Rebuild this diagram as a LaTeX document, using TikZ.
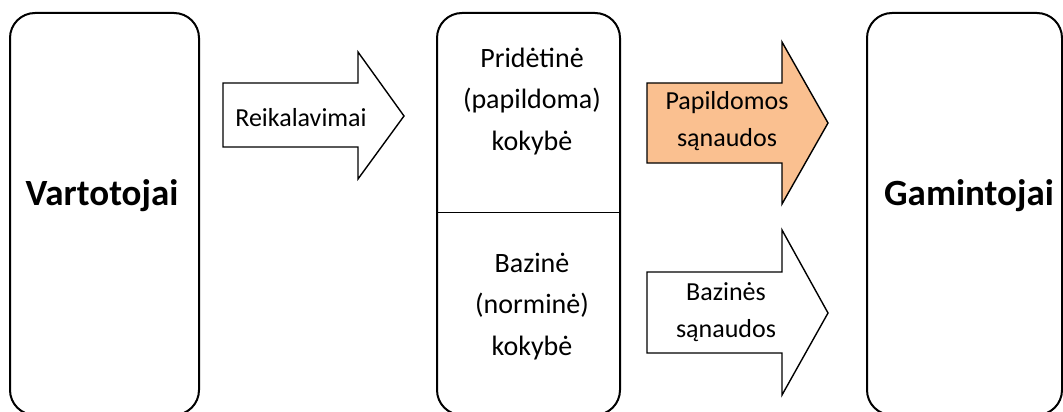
\documentclass[tikz,border=0pt]{standalone}
\usepackage{fontspec}
\setmainfont{Carlito}
\definecolor{peach}{HTML}{FAC090}
\begin{document}
\begin{tikzpicture}[x=1pt,y=-1pt,
  party/.style={draw=black,line width=2pt,rounded corners=25pt,minimum width=#1,minimum height=402pt,inner sep=0pt},
  blockarrow/.style={draw=black,line width=1.4pt,line join=miter},
  bigword/.style={font=\fontsize{37}{40}\selectfont\bfseries,anchor=base,inner sep=0pt},
  arrowtext/.style={font=\fontsize{26}{37}\selectfont,align=center,anchor=base,inner sep=0pt},
  qualtext/.style={font=\fontsize{28}{41.5}\selectfont,align=center,anchor=base,inner sep=0pt}]
\useasboundingbox (0,0) rectangle (1063,412);

% consumer, quality and producer blocks
\node[party=189pt] (cons) at (104.5,214) {};
\node[party=183pt] (qual) at (528.5,214) {};
\node[party=195pt] (prod) at (964.5,214) {};
\draw[line width=1pt] (qual.west |- 0,212) coordinate (divl) -- (qual.east |- 0,212) coordinate (divr);

\node[bigword] (constext) at (102,205) {Vartotojai};
\node[bigword] (prodtext) at (969,205) {Gamintojai};

% quality levels (anchored at the baseline of the last line)
\node[qualtext] (added) at (532,150) {Pridėtinė\\(papildoma)\\kokybė};
\node[qualtext] (basic) at (532,355) {Bazinė\\(norminė)\\kokybė};

% block arrows
\draw[blockarrow,fill=white] (223,83) -- (358,83) -- (358,52) -- (404,116) -- (358,179) -- (358,147) -- (223,147) -- cycle;
\draw[blockarrow,fill=peach] (647,83) -- (782,83) -- (782,42) -- (828,123) -- (782,204) -- (782,163) -- (647,163) -- cycle;
\draw[blockarrow,fill=white] (647,272) -- (782,272) -- (782,230) -- (828,313) -- (782,395) -- (782,353) -- (647,353) -- cycle;

\node[arrowtext] (req) at (301,126) {Reikalavimai};
\node[arrowtext] (addcost) at (727,146) {Papildomos\\sąnaudos};
\node[arrowtext] (basecost) at (726,337) {Bazinės\\sąnaudos};
\end{tikzpicture}
\end{document}
